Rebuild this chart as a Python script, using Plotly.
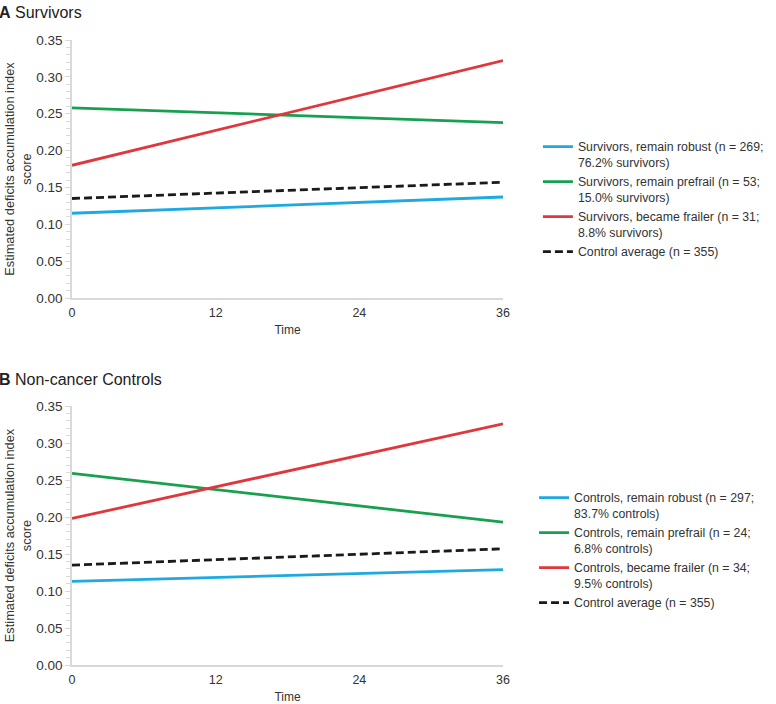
import plotly.graph_objects as go

time_points = [0, 36]
x_ticks = [0, 12, 24, 36]

# Panel A: Survivors
surv_robust = [0.115, 0.137]
surv_prefrail = [0.258, 0.238]
surv_frailer = [0.180, 0.322]
surv_control_avg = [0.135, 0.157]

# Panel B: Non-cancer controls
ctrl_robust = [0.113, 0.129]
ctrl_prefrail = [0.259, 0.193]
ctrl_frailer = [0.198, 0.326]
ctrl_control_avg = [0.135, 0.157]

names_a = [
    "Survivors, remain robust (n = 269;<br>76.2% survivors)",
    "Survivors, remain prefrail (n = 53;<br>15.0% survivors)",
    "Survivors, became frailer (n = 31;<br>8.8% survivors)",
    "Control average (n = 355)",
]
names_b = [
    "Controls, remain robust (n = 297;<br>83.7% controls)",
    "Controls, remain prefrail (n = 24;<br>6.8% controls)",
    "Controls, became frailer (n = 34;<br>9.5% controls)",
    "Control average (n = 355)",
]

colors = ["#1ea9e1", "#17a04f", "#e0363c", "#1a1a1a"]
FONT = "Liberation Sans, Arial, sans-serif"
GRAY = "#d9d9d9"
TXT = "#333333"

fig = go.Figure()

series_a = [surv_robust, surv_prefrail, surv_frailer, surv_control_avg]
series_b = [ctrl_robust, ctrl_prefrail, ctrl_frailer, ctrl_control_avg]

for i, (vals, name) in enumerate(zip(series_a, names_a)):
    fig.add_trace(go.Scatter(
        x=time_points, y=vals, name=name, mode="lines",
        line=dict(color=colors[i], width=2.8, dash="8px,4px" if i == 3 else "solid"),
        xaxis="x", yaxis="y", legend="legend",
    ))
for i, (vals, name) in enumerate(zip(series_b, names_b)):
    fig.add_trace(go.Scatter(
        x=time_points, y=vals, name=name, mode="lines",
        line=dict(color=colors[i], width=2.8, dash="8px,4px" if i == 3 else "solid"),
        xaxis="x2", yaxis="y2", legend="legend2",
    ))

xaxis_common = dict(
    range=[0, 36], tickvals=x_ticks, showline=True, linecolor=GRAY, linewidth=1.5,
    showgrid=False, zeroline=False, ticks="", ticklabelstandoff=2, automargin=False,
    tickfont=dict(size=12.5, color=TXT, family=FONT),
    title=dict(text="Time", font=dict(size=12, color=TXT, family=FONT), standoff=7),
)
yaxis_common = dict(
    range=[0, 0.35], dtick=0.05, tickformat=".2f", showline=True, linecolor=GRAY, linewidth=1.5,
    showgrid=False, zeroline=False, ticks="outside", ticklen=5, tickcolor=GRAY, automargin=False,
    minor=dict(dtick=0.01, ticks="outside", ticklen=4, tickcolor=GRAY),
    tickfont=dict(size=13.5, color=TXT, family=FONT), ticklabelstandoff=0,
    title=dict(text="Estimated deficits accumulation index<br>score",
               font=dict(size=12.8, color=TXT, family=FONT), standoff=2),
)

legend_common = dict(
    font=dict(size=12.3, color=TXT, family=FONT), bgcolor="rgba(0,0,0,0)",
    valign="top", xanchor="left", yanchor="top", itemwidth=30,
)

fig.update_layout(
    width=776, height=704,
    margin=dict(l=72, r=273, t=40, b=39, autoexpand=False),
    paper_bgcolor="white", plot_bgcolor="white",
    font=dict(family=FONT, color=TXT),
    xaxis=dict(domain=[0, 1], anchor="y", **xaxis_common),
    yaxis=dict(domain=[0.5872, 1.0], anchor="x", **yaxis_common),
    xaxis2=dict(domain=[0, 1], anchor="y2", **xaxis_common),
    yaxis2=dict(domain=[0.0, 0.4144], anchor="x2", **yaxis_common),
    legend=dict(x=1.081, y=0.8526, **legend_common),
    legend2=dict(x=1.072, y=0.291, **legend_common),
    annotations=[
        dict(text="<b>A</b> Survivors", xref="paper", yref="paper", x=-0.174, y=1.0448,
             xanchor="left", yanchor="middle", showarrow=False,
             font=dict(size=16, color="#222", family=FONT)),
        dict(text="<b>B</b> Non-cancer Controls", xref="paper", yref="paper", x=-0.174, y=0.4576,
             xanchor="left", yanchor="middle", showarrow=False,
             font=dict(size=16, color="#222", family=FONT)),
    ],
)

fig.write_html("out.html", config={"displayModeBar": False},
               post_script="document.body.style.margin='0';")
